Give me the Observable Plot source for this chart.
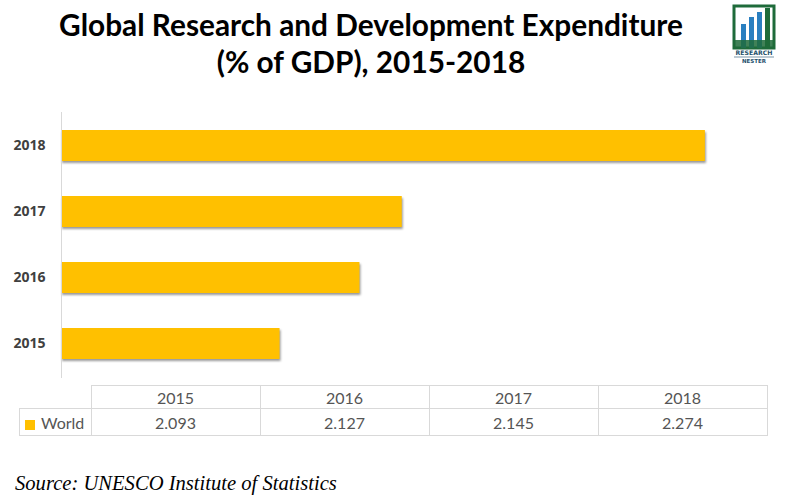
<!DOCTYPE html>
<html>
<head>
<meta charset="utf-8">
<script src="https://cdn.jsdelivr.net/npm/d3@7"></script>
<script src="https://cdn.jsdelivr.net/npm/@observablehq/plot@0.6"></script>
<style>
  html, body { margin: 0; padding: 0; background: #fff; }
  #wrap { position: relative; width: 787px; height: 498px; overflow: hidden; font-family: Lato, sans-serif; }
  #title { position: absolute; left: 0; top: 6px; width: 742px; text-align: center;
           font-family: Lato, sans-serif; font-weight: bold; font-size: 29.8px; line-height: 37px; color: #000; }
  #logo { position: absolute; left: 730px; top: 2px; }
  #chart { position: absolute; left: 0; top: 90px; }
  #chart svg g[aria-label="bar"] { filter: drop-shadow(1px 2px 1.2px rgba(0,0,0,0.4)); }
  #chart svg g[aria-label="y-axis tick label"] text { font-weight: bold; fill: #404040; }
  #tbl { position: absolute; left: 19px; top: 385px; border-collapse: collapse; font-family: Lato, sans-serif;
         font-size: 16px; color: #555; table-layout: fixed; }
  #tbl td { border: 1px solid #d9d9d9; text-align: center; padding: 0; }
  #tbl tr.head td { height: 22px; }
  #tbl tr.row td { height: 26px; }
  #tbl td.corner { border: none; }
  #tbl td.series { text-align: left; padding-left: 5px; white-space: nowrap; }
  #tbl .sw { display: inline-block; width: 10px; height: 10px; background: #FFC000; margin-right: 6px; vertical-align: -1px; }
  #source { position: absolute; left: 15px; top: 472px; font-family: "Liberation Serif", serif; font-style: italic;
            font-size: 20.6px; color: #000; }
</style>
</head>
<body>
<div id="wrap">
  <div id="title">Global Research and Development Expenditure<br>(% of GDP), 2015-2018</div>
  <svg id="logo" width="52" height="62" viewBox="0 0 52 62">
    <rect x="4" y="4" width="40" height="42" fill="none" stroke="#1e6b3a" stroke-width="3"/>
    <rect x="11" y="22" width="5" height="24" fill="#2a7fc0"/>
    <rect x="19" y="15" width="5" height="31" fill="#2a7fc0"/>
    <rect x="27" y="10" width="5" height="36" fill="#2a7fc0"/>
    <rect x="35" y="6" width="5" height="40" fill="#1e6b3a"/>
    <rect x="4" y="38" width="40" height="8" fill="#1e6b3a" opacity="0.85"/>
    <text x="24" y="53" text-anchor="middle" font-family="DejaVu Sans" font-weight="bold" font-size="6.2" fill="#1e4f6b">RESEARCH</text>
    <line x1="4" y1="55" x2="44" y2="55" stroke="#1e4f6b" stroke-width="0.6"/>
    <text x="24" y="61" text-anchor="middle" font-family="DejaVu Sans" font-weight="bold" font-size="5.5" fill="#1e4f6b">NESTER</text>
  </svg>
  <div id="chart"></div>
  <table id="tbl"></table>
  <div id="source">Source: UNESCO Institute of Statistics</div>
</div>
<script>
const years = ["2015", "2016", "2017", "2018"];
const values = [2.093, 2.127, 2.145, 2.274];
const seriesName = "World";
const xMin = 2.0;
const xMax = 2.3;

const data = years.map((y, i) => ({year: y, value: values[i]}));

const chart = Plot.plot({
  width: 787,
  height: 290,
  marginTop: 22,
  marginBottom: 2,
  marginLeft: 61,
  marginRight: 21,
  style: {background: "transparent", fontFamily: "'Open Sans', sans-serif"},
  x: {domain: [xMin, xMax], axis: null},
  y: {domain: years.slice().reverse(), paddingInner: 0.53, paddingOuter: 0.27, axis: null},
  marks: [
    Plot.barX(data, {x1: () => xMin, x2: "value", y: "year", fill: "#FFC000"}),
    Plot.ruleX([xMin], {stroke: "#d9d9d9", strokeWidth: 1}),
    Plot.axisY({tickSize: 0, tickPadding: 16, fontSize: 14, label: null})
  ]
});
document.getElementById("chart").appendChild(chart);

// data table under the chart
const tbl = d3.select("#tbl");
const head = tbl.append("tr").attr("class", "head");
head.append("td").attr("class", "corner").style("width", "71px");
years.forEach(y => head.append("td").style("width", "168px").text(y));
const row = tbl.append("tr").attr("class", "row");
const sc = row.append("td").attr("class", "series");
sc.append("span").attr("class", "sw");
sc.append("span").text(seriesName);
values.forEach(v => row.append("td").text(d3.format(".3f")(v)));
</script>
</body>
</html>
